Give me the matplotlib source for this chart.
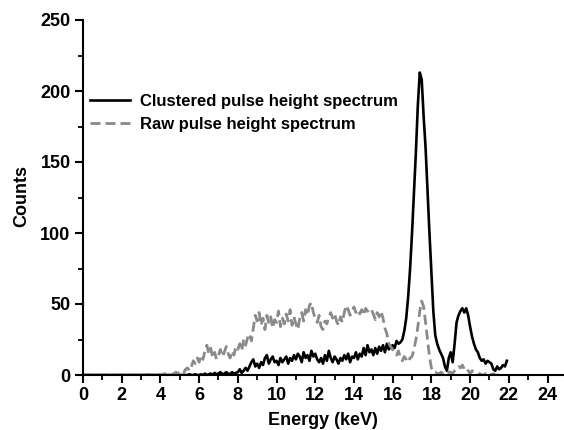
import numpy as np
import matplotlib
matplotlib.use('Agg')
import matplotlib.pyplot as plt
from matplotlib.ticker import MultipleLocator

# clustered spectrum, 0.0 .. 21.9 keV in 0.1 keV bins
clustered = [0] * 50 + [
    0, 0, 0, 0, 0, 0.5, 0, 0, 0.5, 0,            # 5.0
    0, 0.5, 0, 1, 0, 0.5, 1, 0, 1.5, 0.5,        # 6.0
    1, 2, 0.5, 1, 2, 1, 0.5, 2, 1, 1.5,          # 7.0
    2, 4, 1.5, 3, 5, 3, 6, 9, 11, 6,             # 8.0
    8, 5, 9, 7, 12, 14, 8, 11, 13, 9,            # 9.0
    10, 7, 12, 9, 11, 13, 8, 12, 10, 14,         # 10.0
    11, 15, 13, 9, 16, 12, 14, 10, 17, 13,       # 11.0
    15, 11, 9, 12, 8, 14, 10, 17, 12, 9,         # 12.0
    13, 11, 8, 12, 10, 14, 11, 15, 9, 13,        # 13.0
    12, 16, 11, 15, 13, 19, 14, 21, 16, 18,      # 14.0
    14, 19, 15, 20, 17, 21, 16, 22, 18, 20,      # 15.0
    21, 19, 24, 22, 23, 25, 31, 40, 55, 75,      # 16.0
    100, 128, 157, 190, 213, 208, 182, 160, 130, 100,  # 17.0
    72, 45, 28, 22, 18, 15, 12, 6, 3, 12,        # 18.0
    16, 9, 22, 37, 42, 45, 47, 44, 47, 42,       # 19.0
    34, 27, 22, 18, 16, 12, 10, 11, 8, 10,       # 20.0
    9, 8, 4, 3, 6, 4, 5, 7, 6, 10,               # 21.0
]

# raw spectrum, 0.0 .. 21.5 keV in 0.1 keV bins
raw = [0] * 30 + [
    0, 0, 0, 0, 0.5, 0, 0, 0, 0.5, 0,            # 3.0
    0.5, 0, 1, 0.5, 1, 1.5, 0.5, 1, 2, 1,        # 4.0
    2, 3, 1.5, 4, 5, 3, 6, 10, 8, 12,            # 5.0
    9, 14, 11, 17, 21, 15, 19, 12, 16, 11,       # 6.0
    14, 18, 13, 16, 20, 15, 12, 17, 14, 20,      # 7.0
    18, 22, 17, 25, 21, 26, 29, 24, 33, 42,      # 8.0
    38, 44, 35, 40, 32, 42, 37, 41, 33, 39,      # 9.0
    37, 45, 34, 40, 36, 43, 38, 46, 35, 41,      # 10.0
    36, 32, 40, 44, 38, 46, 42, 49, 51, 44,      # 11.0
    40, 37, 42, 34, 32, 38, 36, 41, 44, 40,      # 12.0
    43, 38, 35, 41, 37, 44, 49, 46, 42, 45,      # 13.0
    48, 44, 46, 43, 46, 42, 47, 45, 44, 46,      # 14.0
    43, 39, 44, 41, 45, 40, 33, 29, 22, 20,      # 15.0
    18, 15, 14, 17, 12, 10, 13, 11, 9, 12,       # 16.0
    13, 18, 25, 34, 45, 52, 48, 37, 25, 13,      # 17.0
    5, 2, 2, 1, 1, 2, 1, 2, 1, 2,                # 18.0
    2, 1, 3, 4, 6, 5, 7, 4, 5, 3,                # 19.0
    1, 3, 2, 1, 0, 1, 0, 0, 1, 0,                # 20.0
    1, 0, 1, 0, 0, 0,                            # 21.0
]

e_clustered = np.arange(len(clustered)) * 0.1
e_raw = np.arange(len(raw)) * 0.1

plt.rcParams['font.family'] = ['Liberation Sans', 'DejaVu Sans']
plt.rcParams['font.weight'] = 'bold'

fig = plt.figure(figsize=(5.64, 4.30), dpi=100)
ax = fig.add_axes([83 / 564, 55 / 430, 480 / 564, 355 / 430])

ax.plot(e_clustered, clustered, color='black', lw=1.9,
        label='Clustered pulse height spectrum')
ax.plot(e_raw, raw, color='#8a8a8a', lw=2, dashes=(3.6, 1.8),
        label='Raw pulse height spectrum')

ax.set_xlim(0, 24.8)
ax.set_ylim(0, 250)
ax.xaxis.set_major_locator(MultipleLocator(2))
ax.xaxis.set_minor_locator(MultipleLocator(1))
ax.yaxis.set_major_locator(MultipleLocator(50))
ax.yaxis.set_minor_locator(MultipleLocator(25))

for s in ['top', 'right']:
    ax.spines[s].set_visible(False)
for s in ['left', 'bottom']:
    ax.spines[s].set_linewidth(1.5)
ax.tick_params(which='major', length=5.5, width=1.5, labelsize=13, pad=3.5)
ax.tick_params(which='minor', length=3.5, width=1.3)

ax.set_xlabel('Energy (keV)', fontsize=13, fontweight='bold')
ax.set_ylabel('Counts', fontsize=13, fontweight='bold')
ax.xaxis.set_label_coords(0.5, -0.105)
ax.yaxis.set_label_coords(-0.11, 0.504)

ax.legend(loc='center left', bbox_to_anchor=(0.0146, 0.738), frameon=False,
          handlelength=2.4, handletextpad=0.6, labelspacing=0.5,
          borderpad=0, borderaxespad=0,
          prop={'weight': 'bold', 'size': 12})

fig.savefig('out.png', dpi=100)
